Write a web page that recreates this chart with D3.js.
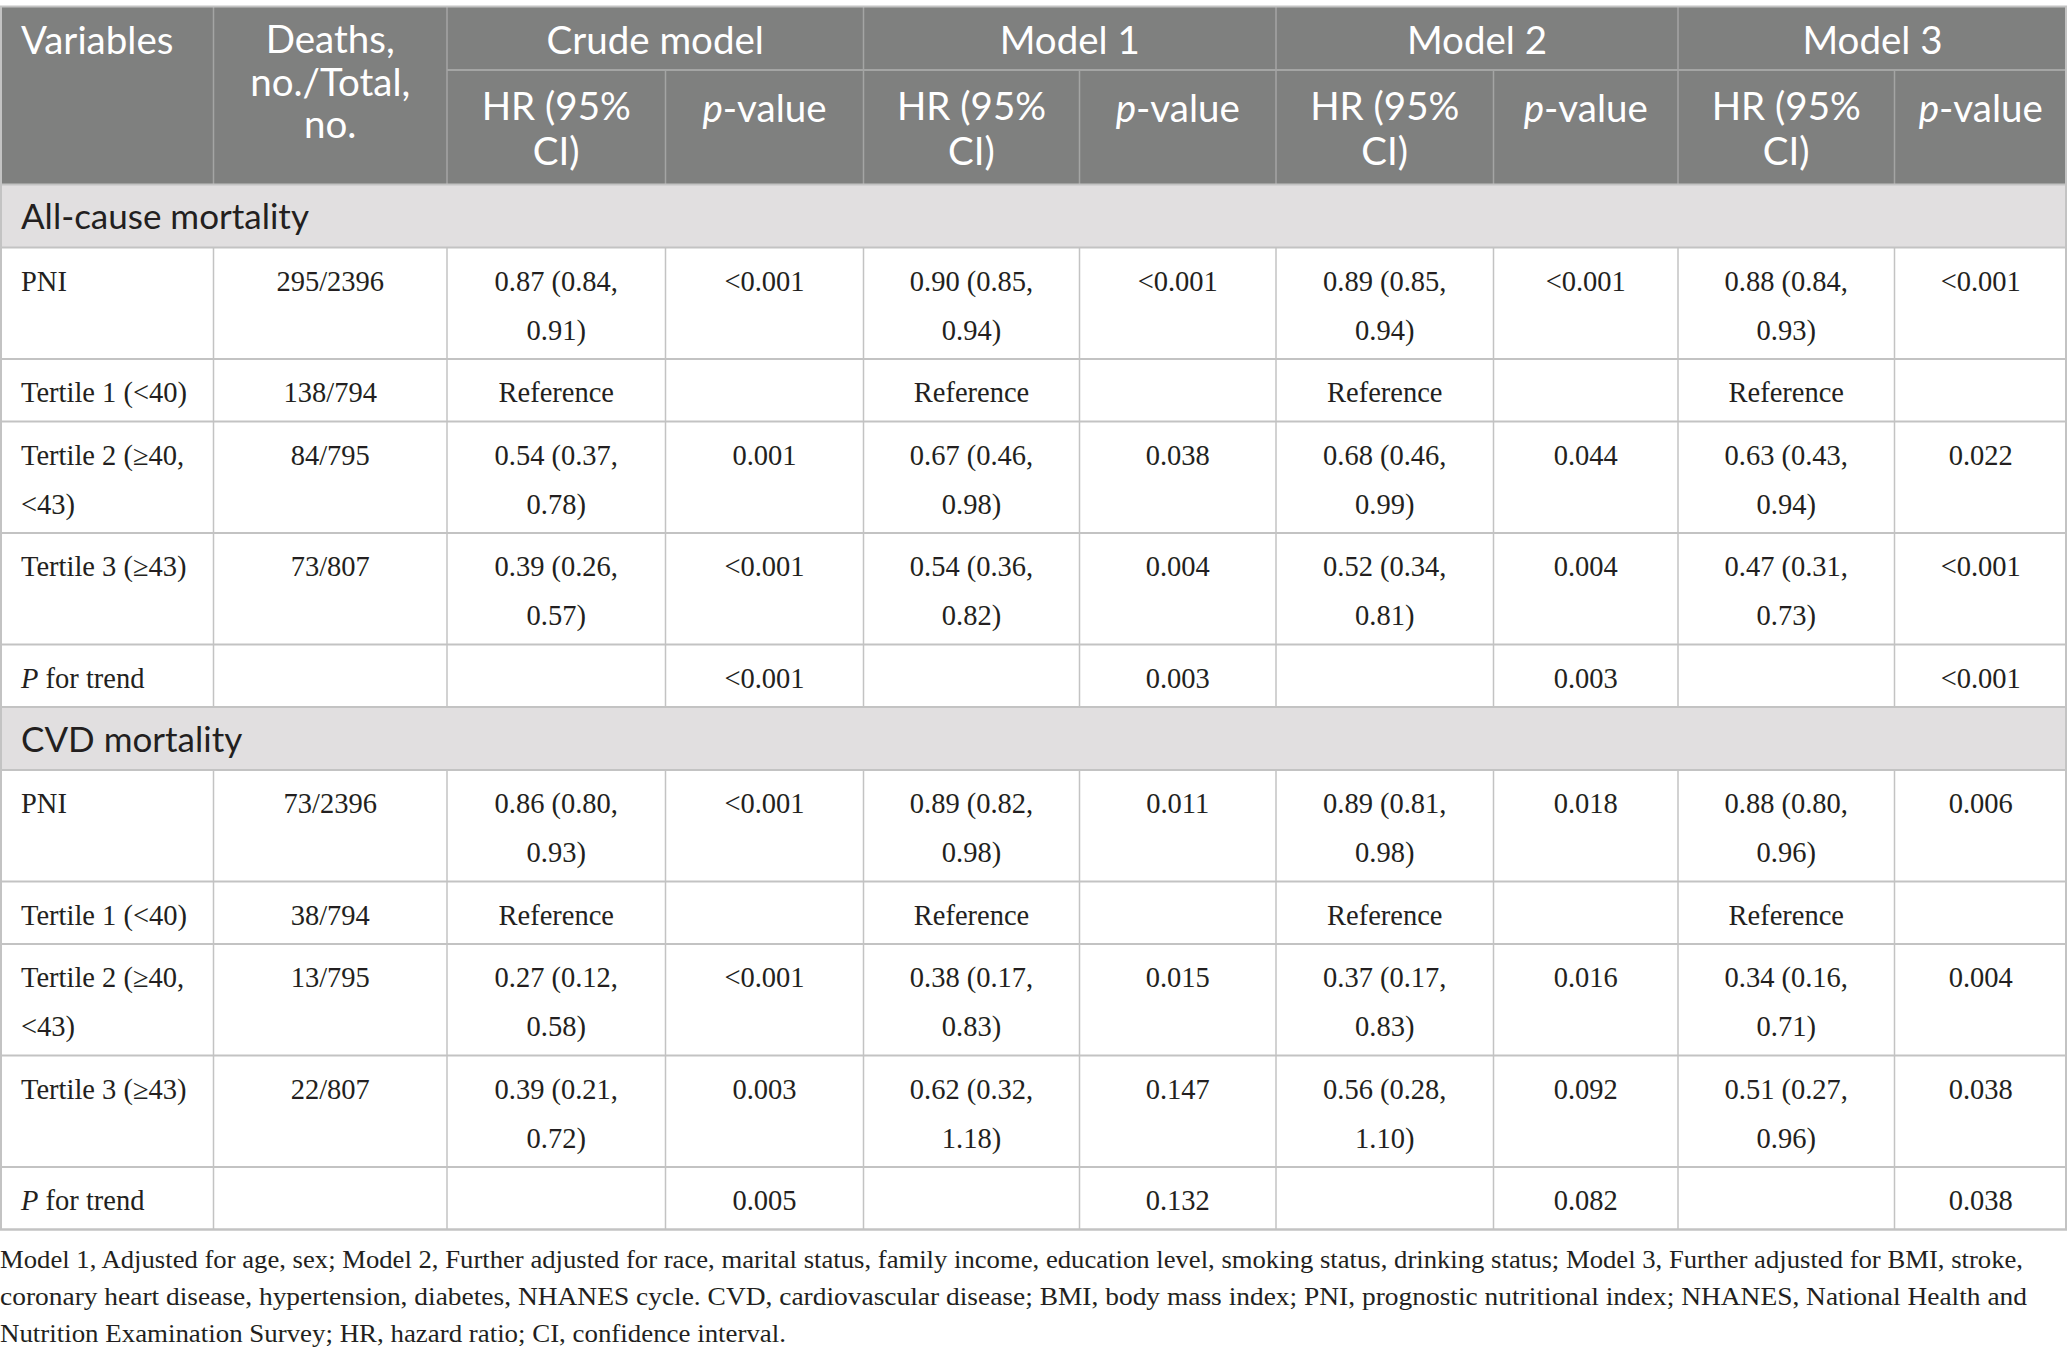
<!DOCTYPE html>
<html>
<head>
<meta charset="utf-8">
<script src="https://cdn.jsdelivr.net/npm/d3@7"></script>
<style>
  html, body { margin: 0; padding: 0; background: #fff; }
</style>
</head>
<body>
<div id="content"></div>
<script>
const width = 2067;
const height = 1355;

// column layout
const colKeys = ['var', 'deaths', 'crudeHR', 'crudeP', 'm1HR', 'm1P', 'm2HR', 'm2P', 'm3HR', 'm3P'];
const colEdges = [0, 213.5, 447, 665.5, 863.5, 1079.5, 1276, 1493.5, 1678, 1894.5, 2067];

const modelNames = ['Crude model', 'Model 1', 'Model 2', 'Model 3'];

// data
const variables = ['PNI', 'Tertile 1 (<40)', 'Tertile 2 (≥40, <43)', 'Tertile 3 (≥43)', 'P for trend'];

const allCauseDeaths = ['295/2396', '138/794', '84/795', '73/807', ''];
const allCauseCrudeHR = ['0.87 (0.84, 0.91)', 'Reference', '0.54 (0.37, 0.78)', '0.39 (0.26, 0.57)', ''];
const allCauseCrudeP = ['<0.001', '', '0.001', '<0.001', '<0.001'];
const allCauseM1HR = ['0.90 (0.85, 0.94)', 'Reference', '0.67 (0.46, 0.98)', '0.54 (0.36, 0.82)', ''];
const allCauseM1P = ['<0.001', '', '0.038', '0.004', '0.003'];
const allCauseM2HR = ['0.89 (0.85, 0.94)', 'Reference', '0.68 (0.46, 0.99)', '0.52 (0.34, 0.81)', ''];
const allCauseM2P = ['<0.001', '', '0.044', '0.004', '0.003'];
const allCauseM3HR = ['0.88 (0.84, 0.93)', 'Reference', '0.63 (0.43, 0.94)', '0.47 (0.31, 0.73)', ''];
const allCauseM3P = ['<0.001', '', '0.022', '<0.001', '<0.001'];

const cvdDeaths = ['73/2396', '38/794', '13/795', '22/807', ''];
const cvdCrudeHR = ['0.86 (0.80, 0.93)', 'Reference', '0.27 (0.12, 0.58)', '0.39 (0.21, 0.72)', ''];
const cvdCrudeP = ['<0.001', '', '<0.001', '0.003', '0.005'];
const cvdM1HR = ['0.89 (0.82, 0.98)', 'Reference', '0.38 (0.17, 0.83)', '0.62 (0.32, 1.18)', ''];
const cvdM1P = ['0.011', '', '0.015', '0.147', '0.132'];
const cvdM2HR = ['0.89 (0.81, 0.98)', 'Reference', '0.37 (0.17, 0.83)', '0.56 (0.28, 1.10)', ''];
const cvdM2P = ['0.018', '', '0.016', '0.092', '0.082'];
const cvdM3HR = ['0.88 (0.80, 0.96)', 'Reference', '0.34 (0.16, 0.71)', '0.51 (0.27, 0.96)', ''];
const cvdM3P = ['0.006', '', '0.004', '0.038', '0.038'];

const footnote = [
  'Model 1, Adjusted for age, sex; Model 2, Further adjusted for race, marital status, family income, education level, smoking status, drinking status; Model 3, Further adjusted for BMI, stroke,',
  'coronary heart disease, hypertension, diabetes, NHANES cycle. CVD, cardiovascular disease; BMI, body mass index; PNI, prognostic nutritional index; NHANES, National Health and',
  'Nutrition Examination Survey; HR, hazard ratio; CI, confidence interval.'
];
const footnoteWidths = [2023, 2027, 786];

const sections = [
  {
    label: 'All-cause mortality',
    cols: [variables, allCauseDeaths, allCauseCrudeHR, allCauseCrudeP, allCauseM1HR, allCauseM1P,
      allCauseM2HR, allCauseM2P, allCauseM3HR, allCauseM3P]
  },
  {
    label: 'CVD mortality',
    cols: [variables, cvdDeaths, cvdCrudeHR, cvdCrudeP, cvdM1HR, cvdM1P,
      cvdM2HR, cvdM2P, cvdM3HR, cvdM3P]
  }
];

// colours & fonts
const headerBg = '#7f807f';
const headerLine = '#a4a5a4';
const sectionBg = '#e1dfe0';
const gridLine = '#c3c3c3';
const textColor = '#231f20';
const sans = 'Lato, "Open Sans", sans-serif';
const serif = '"Liberation Serif", "DejaVu Serif", serif';

const x = d3.scaleOrdinal().domain(colKeys).range(colEdges.slice(0, -1));
const xEnd = d3.scaleOrdinal().domain(colKeys).range(colEdges.slice(1));
const xMid = k => (x(k) + xEnd(k)) / 2;

const tableTop = 6.5;
const headerSplit = 70;
const headerBottom = 184.5;
const sectionH = 63;
const lineStep = 49;
const oneLineH = 62.5;

// split "a (b, c)" into two lines after the comma
function splitLines(s) {
  if (!s) return [];
  const i = s.indexOf(', ');
  if (i < 0) return [s];
  return [s.slice(0, i + 1), s.slice(i + 2)];
}

const svg = d3.select('#content')
  .append('svg')
  .attr('width', width)
  .attr('height', height)
  .style('display', 'block');

// header
const header = svg.append('g').classed('header', true);
header.append('rect')
  .attr('x', 0).attr('y', tableTop)
  .attr('width', width).attr('height', headerBottom - tableTop)
  .attr('fill', headerBg);

// horizontal split under model names
header.append('line')
  .attr('x1', x('crudeHR')).attr('x2', width)
  .attr('y1', headerSplit).attr('y2', headerSplit)
  .attr('stroke', headerLine).attr('stroke-width', 2);

// vertical lines in header
colKeys.slice(1).forEach((k, i) => {
  const isGroupStart = i === 0 || k.endsWith('HR');
  header.append('line')
    .attr('x1', x(k)).attr('x2', x(k))
    .attr('y1', isGroupStart ? tableTop : headerSplit).attr('y2', headerBottom)
    .attr('stroke', headerLine).attr('stroke-width', 1.5);
});

const headText = (tx, ty, anchor) => header.append('text')
  .attr('x', tx).attr('y', ty)
  .attr('dy', '0.35em')
  .attr('text-anchor', anchor)
  .attr('font-family', sans)
  .attr('font-size', 38.5)
  .attr('fill', '#fff');

headText(21, 41, 'start').text('Variables');
['Deaths,', 'no./Total,', 'no.'].forEach((t, i) => headText(xMid('deaths'), 40 + i * 42.5, 'middle').text(t));

modelNames.forEach((m, i) => {
  const hrKey = colKeys[2 + i * 2];
  const pKey = colKeys[3 + i * 2];
  headText((x(hrKey) + xEnd(pKey)) / 2, 41, 'middle').text(m);
  headText(xMid(hrKey), 107, 'middle').text('HR (95%');
  headText(xMid(hrKey), 151.5, 'middle').text('CI)');
  const pv = headText(xMid(pKey), 109, 'middle');
  pv.append('tspan').attr('font-style', 'italic').text('p');
  pv.append('tspan').text('-value');
});

// body
const body = svg.append('g').classed('body', true);
let y = headerBottom;

sections.forEach((sec) => {
  body.append('rect')
    .attr('x', 0).attr('y', y)
    .attr('width', width).attr('height', sectionH)
    .attr('fill', sectionBg);
  body.append('text')
    .attr('x', 21).attr('y', y + sectionH / 2 + 1)
    .attr('dy', '0.35em')
    .attr('font-family', sans)
    .attr('font-size', 35)
    .attr('fill', textColor)
    .text(sec.label);
  body.append('line')
    .attr('x1', 0).attr('x2', width)
    .attr('y1', y).attr('y2', y)
    .attr('stroke', gridLine).attr('stroke-width', 2);
  y += sectionH;

  sec.cols[0].forEach((_, r) => {
    const cells = sec.cols.map(col => splitLines(col[r]));
    const nLines = d3.max(cells, c => c.length);
    const rowH = oneLineH + (nLines - 1) * lineStep;

    body.append('line')
      .attr('x1', 0).attr('x2', width)
      .attr('y1', y).attr('y2', y)
      .attr('stroke', gridLine).attr('stroke-width', 2);

    colKeys.slice(1).forEach((k) => {
      body.append('line')
        .attr('x1', x(k)).attr('x2', x(k))
        .attr('y1', y).attr('y2', y + rowH)
        .attr('stroke', gridLine).attr('stroke-width', 1.5);
    });

    cells.forEach((lines, c) => {
      const k = colKeys[c];
      lines.forEach((t, li) => {
        const txt = body.append('text')
          .attr('x', c === 0 ? 21 : xMid(k))
          .attr('y', y + 33.5 + li * lineStep)
          .attr('dy', '0.35em')
          .attr('text-anchor', c === 0 ? 'start' : 'middle')
          .attr('font-family', serif)
          .attr('font-size', 28.5)
          .attr('fill', textColor);
        if (t.startsWith('P for')) {
          txt.append('tspan').attr('font-style', 'italic').text('P');
          txt.append('tspan').text(t.slice(1));
        } else {
          txt.text(t);
        }
      });
    });
    y += rowH;
  });
});

// outer border of table
svg.append('line')
  .attr('x1', 0).attr('x2', width).attr('y1', y).attr('y2', y)
  .attr('stroke', gridLine).attr('stroke-width', 2);
svg.append('rect')
  .attr('x', 1).attr('y', tableTop)
  .attr('width', width - 2).attr('height', y - tableTop)
  .attr('fill', 'none')
  .attr('stroke', gridLine).attr('stroke-width', 2);

// footnote
const foot = svg.append('g').classed('footnote', true);
footnote.forEach((t, i) => {
  foot.append('text')
    .attr('x', 0).attr('y', 1259 + i * 37)
    .attr('dy', '0.35em')
    .attr('font-family', serif)
    .attr('font-size', 26)
    .attr('fill', textColor)
    .attr('textLength', footnoteWidths[i])
    .attr('lengthAdjust', 'spacingAndGlyphs')
    .text(t);
});
</script>
</body>
</html>
